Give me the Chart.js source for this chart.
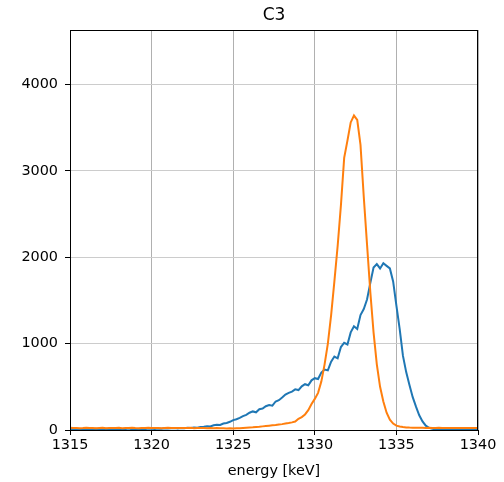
<!DOCTYPE html>
<html>
<head>
<meta charset="utf-8">
<script src="https://cdn.jsdelivr.net/npm/chart.js@4"></script>
<style>
html,body{margin:0;padding:0;background:#fff;}
canvas{display:block;}
</style>
</head>
<body>
<canvas id="c" width="504" height="482"></canvas>
<script>
const titleText = "C3";
const xLabel = "energy [keV]";
const xTicks = [1315, 1320, 1325, 1330, 1335, 1340];
const yTicks = [0, 1000, 2000, 3000, 4000];

const energies = [
 1315.0,1315.2,1315.4,1315.6,1315.8, 1316.0,1316.2,1316.4,1316.6,1316.8,
 1317.0,1317.2,1317.4,1317.6,1317.8, 1318.0,1318.2,1318.4,1318.6,1318.8,
 1319.0,1319.2,1319.4,1319.6,1319.8, 1320.0,1320.2,1320.4,1320.6,1320.8,
 1321.0,1321.2,1321.4,1321.6,1321.8, 1322.0,1322.2,1322.4,1322.6,1322.8,
 1323.0,1323.2,1323.4,1323.6,1323.8, 1324.0,1324.2,1324.4,1324.6,1324.8,
 1325.0,1325.2,1325.4,1325.6,1325.8, 1326.0,1326.2,1326.4,1326.6,1326.8,
 1327.0,1327.2,1327.4,1327.6,1327.8, 1328.0,1328.2,1328.4,1328.6,1328.8,
 1329.0,1329.2,1329.4,1329.6,1329.8, 1330.0,1330.2,1330.4,1330.6,1330.8,
 1331.0,1331.2,1331.4,1331.6,1331.8, 1332.0,1332.2,1332.4,1332.6,1332.8,
 1333.0,1333.2,1333.4,1333.6,1333.8, 1334.0,1334.2,1334.4,1334.6,1334.8,
 1335.0,1335.2,1335.4,1335.6,1335.8, 1336.0,1336.2,1336.4,1336.6,1336.8,
 1337.0,1337.2,1337.4,1337.6,1337.8, 1338.0,1338.2,1338.4,1338.6,1338.8,
 1339.0,1339.2,1339.4,1339.6,1339.8, 1340.0
];

const blueCounts = [
 8,12,6,10,14, 7,11,9,13,8,
 10,15,9,12,7, 14,10,11,16,9,
 13,12,15,10,17, 14,12,18,15,20,
 16,19,22,18,24, 21,26,23,30,27,
 35,38,44,41,55, 62,58,75,82,95,
 115,125,140,160,175, 200,215,205,240,248,
 275,290,282,330,345, 375,410,430,445,470,
 462,505,530,518,575, 600,590,665,700,690,
 790,850,830,960,1010, 990,1130,1200,1170,1330,
 1400,1510,1700,1880,1920, 1870,1930,1900,1870,1720,
 1440,1170,860,670,520, 380,270,170,100,50,
 25,14,8,6,5, 5,4,6,3,5,
 4,5,3,4,5, 4
];

const orangeCounts = [
 25,22,24,21,23, 26,22,24,20,23,
 25,21,24,22,23, 25,21,24,22,26,
 23,21,24,22,25, 23,22,24,21,23,
 25,22,24,23,22, 24,22,25,21,23,
 22,24,21,23,20, 22,19,21,18,20,
 17,19,21,24,27, 30,32,35,38,42,
 46,50,54,58,64, 68,74,80,88,98,
 130,150,180,230,300, 360,430,560,760,1000,
 1330,1720,2130,2600,3150, 3350,3560,3640,3590,3300,
 2700,2150,1600,1130,760, 500,330,200,120,75,
 50,40,34,30,28, 27,26,25,26,24,
 25,23,24,25,23, 24,22,23,24,22,
 23,22,24,23,22, 23
];

const FONT = "'DejaVu Sans', sans-serif";

const framePlugin = {
  id: 'frame',
  afterDraw(chart) {
    const {ctx, chartArea: a} = chart;
    ctx.save();
    ctx.strokeStyle = '#000';
    ctx.lineWidth = 1;
    ctx.strokeRect(Math.round(a.left) + 0.5, Math.round(a.top) + 0.5,
                   Math.round(a.right - a.left) - 1, Math.round(a.bottom - a.top));
    ctx.fillStyle = '#000';
    ctx.font = "17px " + FONT;
    ctx.textAlign = 'center';
    ctx.textBaseline = 'middle';
    ctx.fillText(titleText, (a.left + a.right) / 2, 16);
    ctx.restore();
  }
};

new Chart(document.getElementById('c'), {
  type: 'line',
  data: {
    datasets: [
      {
        label: 'orange',
        data: energies.map((e, i) => ({x: e, y: orangeCounts[i]})),
        borderColor: '#ff7f0e',
        borderWidth: 2,
        pointRadius: 0,
        fill: false,
        tension: 0,
        order: 0
      },
      {
        label: 'blue',
        data: energies.map((e, i) => ({x: e, y: blueCounts[i]})),
        borderColor: '#1f77b4',
        borderWidth: 2,
        pointRadius: 0,
        fill: false,
        tension: 0,
        order: 1
      }
    ]
  },
  options: {
    responsive: false,
    animation: false,
    devicePixelRatio: 1,
    layout: {padding: {top: 30, right: 26, left: 0, bottom: 0}},
    plugins: {legend: {display: false}, title: {display: false}, tooltip: {enabled: false}},
    scales: {
      x: {
        type: 'linear',
        min: xTicks[0],
        max: xTicks[xTicks.length - 1],
        afterBuildTicks: s => { s.ticks = xTicks.map(v => ({value: v})); },
        ticks: {
          font: {family: FONT, size: 14.4},
          color: '#000',
          padding: 2,
          maxRotation: 0,
          autoSkip: false,
          callback: v => String(v)
        },
        grid: {color: '#b0b0b0', tickColor: '#000', tickLength: 5, lineWidth: 1},
        border: {color: '#000'},
        title: {display: true, text: xLabel, font: {family: FONT, size: 14.4}, color: '#000', padding: {top: 2, bottom: 2}},
        afterFit: s => { s.height = 52; }
      },
      y: {
        type: 'linear',
        min: 0,
        max: 4630,
        afterBuildTicks: s => { s.ticks = yTicks.map(v => ({value: v})); },
        ticks: {
          font: {family: FONT, size: 14.4},
          color: '#000',
          padding: 7,
          autoSkip: false,
          callback: v => String(v)
        },
        grid: {color: '#cccccc', tickColor: '#000', tickLength: 5, lineWidth: 1},
        border: {color: '#000'},
        afterFit: s => { s.width = 70; }
      }
    }
  },
  plugins: [framePlugin]
});
</script>
</body>
</html>
